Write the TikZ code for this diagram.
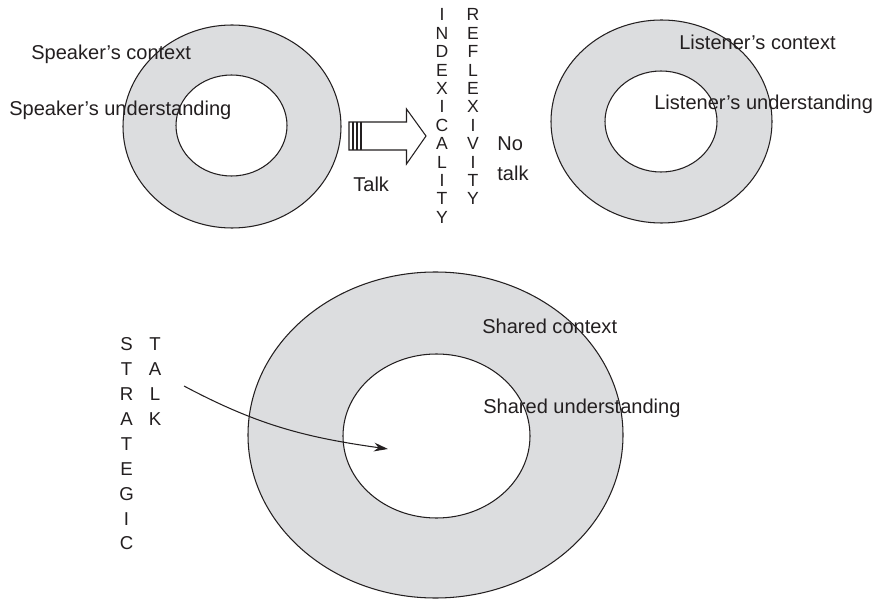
\documentclass[tikz,border=0pt]{standalone}
\usepackage{fontspec}
\setmainfont{Liberation Sans}
\usepackage{tikz}
\usetikzlibrary{shapes.geometric}
\usetikzlibrary{arrows.meta}
\usepackage{xcolor}
\definecolor{ringgray}{HTML}{DCDDDF}
\definecolor{inkgray}{HTML}{231F20}

\begin{document}
\begin{tikzpicture}[
        ring/.style={draw=inkgray, ellipse, line width=0.6pt, inner sep=0pt},
        ringtext/.style={inner sep=0pt, anchor=base west, text=inkgray, font=\fontsize{11.4}{13.7}\selectfont},
        letters/.style={inner sep=0pt, anchor=north, align=center, text=inkgray, font=\fontsize{10}{10.47}\selectfont},
        bigletters/.style={inner sep=0pt, anchor=north, align=center, text=inkgray, font=\fontsize{10.6}{14.2}\selectfont}
    ]
            \useasboundingbox (0,0) rectangle (17.46,12);
            % Speaker and listener rings
            \node[ring, fill=ringgray, minimum width=4.36cm, minimum height=4.06cm] (spkouter) at (4.64,9.47) {};
            \node[ring, fill=white, minimum width=2.22cm, minimum height=2.02cm] (spkinner) at (4.63,9.49) {};
            \node[ring, fill=ringgray, minimum width=4.42cm, minimum height=4.06cm] (lstouter) at (13.23,9.57) {};
            \node[ring, fill=white, minimum width=2.24cm, minimum height=2.02cm] (lstinner) at (13.22,9.57) {};
            % Shared ring
            \node[ring, fill=ringgray, minimum width=7.50cm, minimum height=6.52cm] (shrouter) at (8.71,3.30) {};
            \node[ring, fill=white, minimum width=3.74cm, minimum height=3.28cm] (shrinner) at (8.73,3.28) {};

            \node[ringtext] (spkcontext) at (0.62,10.81) {Speaker’s context};
            \node[ringtext] (spkunder) at (0.18,9.68) {Speaker’s understanding};
            \node[ringtext] (lstcontext) at (13.58,11.0) {Listener’s context};
            \node[ringtext] (lstunder) at (13.08,9.80) {Listener’s understanding};
            \node[ringtext] (shrcontext) at (9.64,5.34) {Shared context};
            \node[ringtext] (shrunder) at (9.66,3.74) {Shared understanding};

            % Talk arrow
            \draw[line width=0.6pt, draw=inkgray, fill=white] (6.98,9.56) -- (8.13,9.56) -- (8.13,9.82) -- (8.52,9.28) -- (8.13,8.72) -- (8.13,9.0) -- (6.98,9.0) -- cycle;
            \draw[line width=0.6pt, draw=inkgray] (7.06,9.56) -- (7.06,9.0) (7.14,9.56) -- (7.14,9.0) (7.22,9.56) -- (7.22,9.0);
            \node[ringtext] (talk) at (7.06,8.16) {Talk};
            \node[ringtext] (notalk) at (9.94,8.99) {No};
            \node[ringtext] (notalkb) at (9.94,8.39) {talk};

            \node[letters] (indexcol) at (8.84,11.83) {I\\N\\D\\E\\X\\I\\C\\A\\L\\I\\T\\Y};
            \node[letters] (reflexcol) at (9.46,11.83) {R\\E\\F\\L\\E\\X\\I\\V\\I\\T\\Y};

            % Strategic talk
            \node[bigletters] (stratcol) at (2.53,5.26) {S\\T\\R\\A\\T\\E\\G\\I\\C};
            \node[bigletters] (talkcol) at (3.10,5.26) {T\\A\\L\\K};
            \coordinate (talkstart) at (3.68,4.28);
            \coordinate (talkend) at (7.76,3.02);
            \draw[line width=0.6pt, draw=inkgray, -{Stealth[length=8pt, width=5pt]}] (talkstart) to[out=-28, in=172] (talkend);
        \end{tikzpicture}
\end{document}
